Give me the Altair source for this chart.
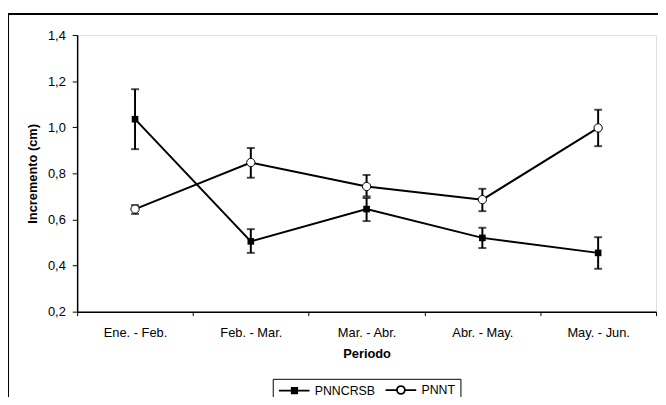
import altair as alt
import pandas as pd

categories = ["Ene. - Feb.", "Feb. - Mar.", "Mar. - Abr.", "Abr. - May.", "May. - Jun."]
series = ["PNNCRSB", "PNNT"]
pnncrsb = [1.035, 0.505, 0.645, 0.520, 0.455]
pnncrsb_lo = [0.905, 0.455, 0.593, 0.476, 0.386]
pnncrsb_hi = [1.165, 0.558, 0.693, 0.564, 0.523]
pnnt = [0.645, 0.847, 0.743, 0.686, 0.997]
pnnt_lo = [0.624, 0.781, 0.700, 0.636, 0.918]
pnnt_hi = [0.662, 0.910, 0.793, 0.733, 1.076]
y_ticks = [0.2, 0.4, 0.6, 0.8, 1.0, 1.2, 1.4]

rows = []
for i, c in enumerate(categories):
    rows.append({"periodo": c, "serie": series[0], "v": pnncrsb[i], "lo": pnncrsb_lo[i], "hi": pnncrsb_hi[i]})
    rows.append({"periodo": c, "serie": series[1], "v": pnnt[i], "lo": pnnt_lo[i], "hi": pnnt_hi[i]})
df = pd.DataFrame(rows)

FONT = "Liberation Sans"
common_axis = dict(labelFont=FONT, titleFont=FONT, labelFontSize=13, titleFontSize=13,
                   titleFontWeight="bold", labelColor="black", titleColor="black",
                   domainColor="black", tickColor="black", domainWidth=1.5)

x_enc = alt.X("periodo:N", sort=categories,
              scale=alt.Scale(paddingInner=0, paddingOuter=0),
              axis=alt.Axis(title="Periodo", labelAngle=0, tickBand="extent",
                            tickSize=4, labelPadding=11, titlePadding=8, **common_axis))
y_scale = alt.Scale(domain=[0.2, 1.4], nice=False, zero=False)
y_axis = alt.Axis(title="Incremento (cm)", values=y_ticks, grid=False, tickSize=5,
                  labelPadding=7, titlePadding=8,
                  labelExpr="replace(format(datum.value, '.1f'), '.', ',')", **common_axis)

base = alt.Chart(df)

lines = base.mark_line(color="black", strokeWidth=2).encode(
    x=x_enc, y=alt.Y("v:Q", scale=y_scale, axis=y_axis), detail="serie:N")

bars = base.mark_rule(color="black", strokeWidth=2).encode(
    x=x_enc, y="lo:Q", y2="hi:Q")
cap_lo = base.mark_tick(color="black", thickness=2, size=8).encode(x=x_enc, y="lo:Q")
cap_hi = base.mark_tick(color="black", thickness=2, size=8).encode(x=x_enc, y="hi:Q")

squares = base.transform_filter(alt.datum.serie == series[0]).mark_square(
    color="black", size=45, opacity=1).encode(x=x_enc, y="v:Q")
circles = base.transform_filter(alt.datum.serie == series[1]).mark_point(
    shape="circle", filled=True, fill="white", stroke="black", strokeWidth=1,
    size=70, opacity=1).encode(x=x_enc, y="v:Q")

sq_path = "M-1,0H5.2M1.6,-0.55H2.7V0.55H1.6Z"
ci_path = "M-1,0H1.3M2.9,0H5.2M2.9,0A0.8,0.8 0 1,1 1.3,0A0.8,0.8 0 1,1 2.9,0Z"
leg = alt.Legend(title=None, orient="none", legendX=198, legendY=348,
                 direction="horizontal", columns=2, symbolSize=100,
                 symbolStrokeColor="black", symbolStrokeWidth=1.8,
                 labelOffset=25, columnPadding=6, padding=5,
                 strokeColor="black", fillColor="white",
                 labelFont=FONT, labelFontSize=12.5, labelColor="black")
legend_layer = base.transform_filter("false").mark_point(
    filled=True, strokeWidth=1.8, opacity=1).encode(
    shape=alt.Shape("serie:N", scale=alt.Scale(domain=series, range=[sq_path, ci_path]), legend=leg),
    fill=alt.Fill("serie:N", scale=alt.Scale(domain=series, range=["black", "white"]), legend=leg),
    stroke=alt.Stroke("serie:N", scale=alt.Scale(domain=series, range=["black", "black"]), legend=leg))

frame_left = base.mark_rule(color="black", strokeWidth=1).encode(
    x=alt.value(-69.5), y=alt.value(-21.5), y2=alt.value(400))
frame_top = base.mark_rule(color="black", strokeWidth=1).encode(
    x=alt.value(-69.5), x2=alt.value(700), y=alt.value(-21.5))

chart = alt.layer(lines, bars, cap_lo, cap_hi, squares, circles, legend_layer,
                  frame_left, frame_top).properties(
    width=586, height=280,
    autosize=alt.AutoSizeParams(type="none"),
    padding={"left": 70, "top": 25, "right": 2, "bottom": 84},
).configure_view(stroke="#555555", strokeWidth=1).configure(background="white")

chart.save("out.html", embed_options={"renderer": "svg", "actions": False})
